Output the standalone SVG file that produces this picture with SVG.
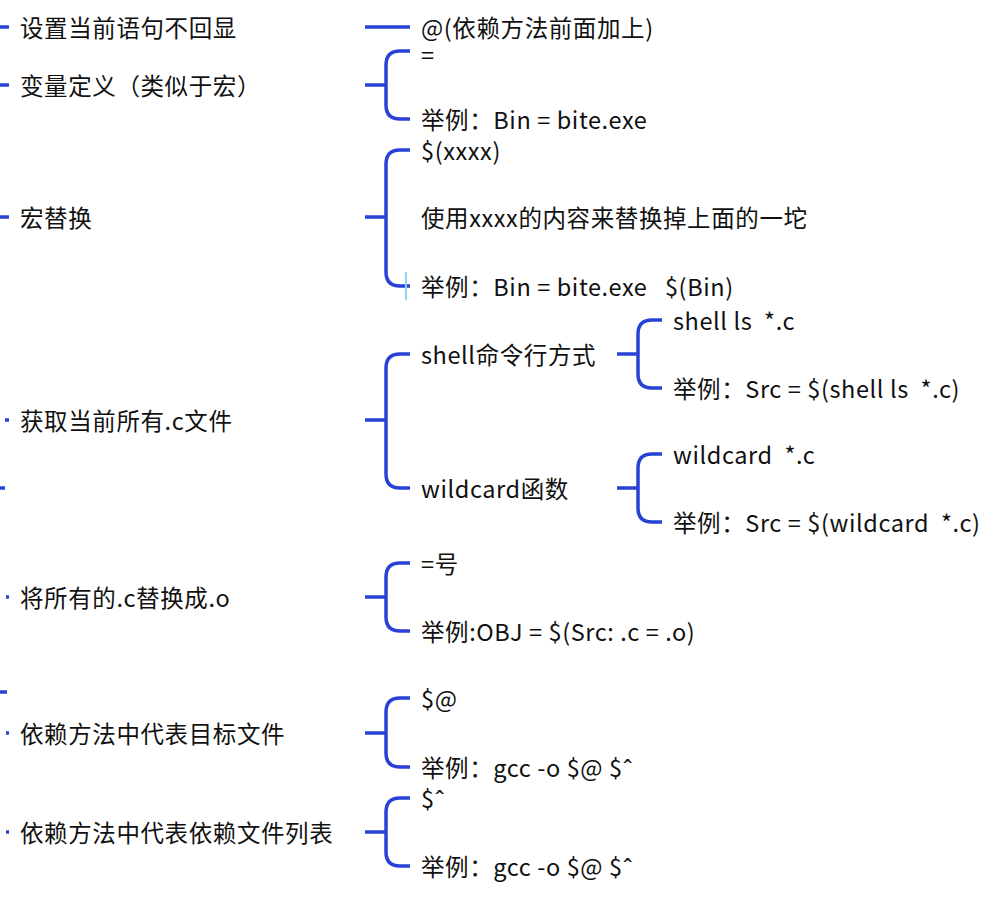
<svg xmlns="http://www.w3.org/2000/svg" width="982" height="898" viewBox="0 0 982 898">
<style>
text{font-family:"Noto Sans CJK SC","Noto Sans",sans-serif;font-size:23.5px;fill:#111;dominant-baseline:central;letter-spacing:0.6px}
.c{fill:none;stroke:#2942d6;stroke-width:3.5;stroke-linecap:butt}
</style>
<rect width="982" height="898" fill="#fff"/>
<g id="connectors">
<path class="c" d="M0 27H9M0 85H9M0 217H9M5 420H9M0 488H5M6 597H9M0 692H7M6 733H9M6 832H9"/>
<path class="c" d="M365 27H410"/>
<path class="c" d="M365 85H386M410 51H400Q386 51 386 65V105Q386 119 400 119H410"/>
<path class="c" d="M365 217H386M410 150H400Q386 150 386 164V272Q386 286 400 286H410"/>
<path d="M406 272V300" stroke="#8fd3f5" stroke-width="2"/>
<path class="c" d="M365 420H386M410 354H400Q386 354 386 368V474Q386 488 400 488H410"/>
<path class="c" d="M617 354H638M662 320H652Q638 320 638 334V374Q638 388 652 388H662"/>
<path class="c" d="M617 488H638M662 454H652Q638 454 638 468V508Q638 522 652 522H662"/>
<path class="c" d="M365 597H386M410 563H400Q386 563 386 577V617Q386 631 400 631H410"/>
<path class="c" d="M365 733H386M410 698H400Q386 698 386 712V753Q386 767 400 767H410"/>
<path class="c" d="M365 832H386M410 798H400Q386 798 386 812V852Q386 866 400 866H410"/>
</g>
<g id="n1"><text x="20" y="27">设置当前语句不回显</text></g>
<g id="n1a"><text x="421" y="27">@(依赖方法前面加上)</text></g>
<g id="n2"><text x="20" y="85">变量定义（类似于宏）</text></g>
<g id="n2a"><text x="421" y="54">=</text></g>
<g id="n2b"><text x="421" y="119">举例：Bin = bite.exe</text></g>
<g id="n3"><text x="20" y="217">宏替换</text></g>
<g id="n3a"><text x="421" y="150">$(xxxx)</text></g>
<g id="n3b"><text x="421" y="217">使用xxxx的内容来替换掉上面的一坨</text></g>
<g id="n3c"><text x="421" y="286" xml:space="preserve">举例：Bin = bite.exe   $(Bin)</text></g>
<g id="n4"><text x="20" y="420">获取当前所有.c文件</text></g>
<g id="n4a"><text x="421" y="354">shell命令行方式</text></g>
<g id="n4a1"><text x="673" y="320" xml:space="preserve">shell ls  *.c</text></g>
<g id="n4a2"><text x="673" y="388" xml:space="preserve">举例：Src = $(shell ls  *.c)</text></g>
<g id="n4b"><text x="421" y="488">wildcard函数</text></g>
<g id="n4b1"><text x="673" y="454" xml:space="preserve">wildcard  *.c</text></g>
<g id="n4b2"><text x="673" y="522" xml:space="preserve">举例：Src = $(wildcard  *.c)</text></g>
<g id="n5"><text x="20" y="597">将所有的.c替换成.o</text></g>
<g id="n5a"><text x="421" y="563">=号</text></g>
<g id="n5b"><text x="421" y="631">举例:OBJ = $(Src: .c = .o)</text></g>
<g id="n6"><text x="20" y="733">依赖方法中代表目标文件</text></g>
<g id="n6a"><text x="421" y="698">$@</text></g>
<g id="n6b"><text x="421" y="767">举例：gcc -o $@ $ˆ</text></g>
<g id="n7"><text x="20" y="832">依赖方法中代表依赖文件列表</text></g>
<g id="n7a"><text x="421" y="798">$ˆ</text></g>
<g id="n7b"><text x="421" y="866">举例：gcc -o $@ $ˆ</text></g>
</svg>
